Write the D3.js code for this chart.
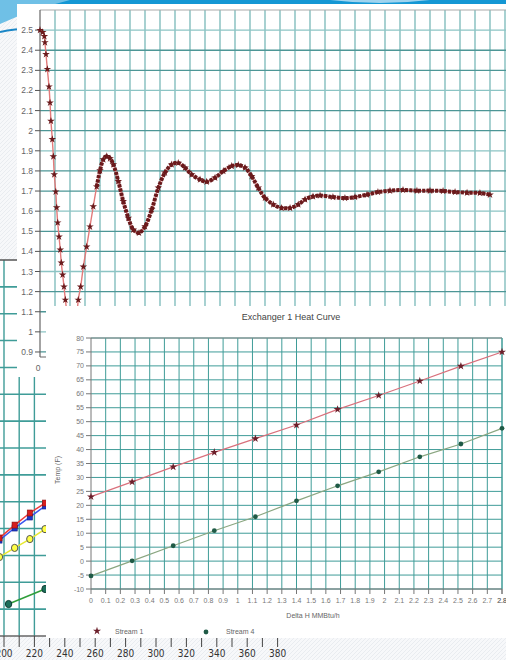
<!DOCTYPE html>
<html>
<head>
<meta charset="utf-8">
<script src="https://cdn.jsdelivr.net/npm/d3@7"></script>
<style>
  html, body { margin: 0; padding: 0; background: #f6f7f9; }
  svg { display: block; }
  text { font-family: "Liberation Sans", Arial, sans-serif; }
</style>
</head>
<body>
<div id="chart"></div>
<script>
// Three overlapping chart screenshots on one slide

// --- top chart: damped response (t, value) ---
const respT = [0, 0.18, 0.29, 0.33, 0.40, 0.49, 0.60, 0.67, 0.73, 0.82, 0.89, 0.95, 1.05, 1.11, 1.18,
  1.27, 1.35, 1.42, 1.51, 1.60, 1.69, 1.87, 2.07, 2.23, 2.40, 2.55, 2.71, 2.89, 3.11, 3.33, 3.55,
  3.78, 4.00, 4.22, 4.45, 4.67, 4.89, 5.22, 5.55, 5.89, 6.22, 6.60, 7.00, 7.45, 7.89, 8.33, 8.78,
  9.22, 9.67, 10.11, 10.67, 11.11, 11.67, 12.22, 12.78, 13.22, 13.67, 14.11, 14.55, 15.00, 15.55,
  16.11, 16.67, 17.22, 17.67, 18.20, 18.67, 19.53, 20.33, 21.00, 21.80, 22.53, 23.33, 24.20, 25.13,
  26.00, 26.87, 27.67, 28.47, 29.33, 30.00];
const respV = [2.500, 2.489, 2.469, 2.439, 2.380, 2.306, 2.219, 2.139, 2.048, 1.957, 1.872, 1.782,
  1.697, 1.618, 1.543, 1.473, 1.408, 1.343, 1.284, 1.224, 1.159, 1.059, 0.970, 0.930, 1.000, 1.159,
  1.224, 1.324, 1.423, 1.523, 1.623, 1.722, 1.802, 1.857, 1.873, 1.862, 1.832, 1.749, 1.649, 1.566,
  1.508, 1.492, 1.524, 1.608, 1.716, 1.791, 1.832, 1.840, 1.816, 1.782, 1.757, 1.746, 1.766, 1.799,
  1.824, 1.829, 1.816, 1.774, 1.716, 1.666, 1.633, 1.616, 1.616, 1.633, 1.658, 1.673, 1.678, 1.670,
  1.665, 1.670, 1.682, 1.695, 1.702, 1.705, 1.702, 1.702, 1.700, 1.695, 1.692, 1.690, 1.682];
const respYTicks = [0.9, 1, 1.1, 1.2, 1.3, 1.4, 1.5, 1.6, 1.7, 1.8, 1.9, 2, 2.1, 2.2, 2.3, 2.4, 2.5];

// --- exchanger heat curve ---
const deltaH = [0, 0.28, 0.56, 0.84, 1.12, 1.40, 1.68, 1.96, 2.24, 2.52, 2.80];
const stream1Temp = [23.1, 28.4, 33.8, 39.0, 43.9, 48.8, 54.4, 59.4, 64.6, 69.9, 75.0];
const stream4Temp = [-5.3, 0.1, 5.5, 10.9, 15.9, 21.6, 27.0, 32.0, 37.4, 42.0, 47.6];
const tempTicks = d3.range(-10, 81, 5);
const deltaTicks = d3.range(0, 29).map(i => i / 10);

// --- lower left chart (mostly hidden) ---
const lowTicks = [200, 220, 240, 260, 280, 300, 320, 340, 360, 380];
const redX = [197, 207, 217, 227], redY = [36.5, 41.3, 45.8, 49.5];
const blueX = [197, 207, 217, 227], blueY = [35.7, 40.2, 44.3, 48.4];
const yellowX = [197, 207, 217, 227], yellowY = [29.4, 32.8, 36.1, 39.8];
const greenX = [203, 227], greenY = [11.9, 17.5];

const W = 506, H = 660;
const svg = d3.select('#chart').append('svg').attr('width', W).attr('height', H);

// slide background with a faint hatch
const defs = svg.append('defs');
const pat = defs.append('pattern').attr('id', 'hatch').attr('width', 4).attr('height', 4)
  .attr('patternUnits', 'userSpaceOnUse');
pat.append('rect').attr('width', 4).attr('height', 4).attr('fill', '#f7f8fa');
pat.append('path').attr('d', 'M0,4 L4,0').attr('stroke', '#e6e9ed').attr('stroke-width', 0.8);
svg.append('rect').attr('width', W).attr('height', H).attr('fill', 'url(#hatch)');

// blue swooshes of the slide theme
svg.append('rect').attr('x', 0).attr('y', 0).attr('width', W).attr('height', 4).attr('fill', '#1497d4');
svg.append('path').attr('d', 'M0,0 L70,0 Q30,10 0,24 Z').attr('fill', '#6fc0e6');
svg.append('path').attr('d', 'M330,0 Q380,6 430,0 Z').attr('fill', '#9fd3ee');
svg.append('path').attr('d', 'M0,32 Q18,28 40,29').attr('fill', 'none')
  .attr('stroke', '#1a86c6').attr('stroke-width', 2);

const teal = '#3f9c98';

// ================= lower-left chart =================
const xC = d3.scaleLinear().domain([200, 380]).range([4, 277.6]);
const yC = d3.scaleLinear().domain([0, 140]).range([636, 260]);
const gC = svg.append('g');
gC.append('rect').attr('x', -10).attr('y', 260).attr('width', 290).attr('height', 376).attr('fill', '#fff');
gC.selectAll('.hgc').data(d3.range(10, 140, 10)).join('line')
  .attr('x1', -10).attr('x2', 280).attr('y1', d => yC(d)).attr('y2', d => yC(d))
  .attr('stroke', teal).attr('stroke-width', 1.6);
gC.selectAll('.vgc').data(d3.range(190, 381, 10)).join('line')
  .attr('x1', d => xC(d)).attr('x2', d => xC(d)).attr('y1', 260).attr('y2', 636)
  .attr('stroke', teal).attr('stroke-width', 1.4);
gC.append('line').attr('x1', -10).attr('x2', 280).attr('y1', 260).attr('y2', 260)
  .attr('stroke', '#555').attr('stroke-width', 1.5);
gC.append('line').attr('x1', -10).attr('x2', 280).attr('y1', 636).attr('y2', 636)
  .attr('stroke', '#666').attr('stroke-width', 1.5);
gC.selectAll('.tkc').data(d3.range(190, 381, 10)).join('line')
  .attr('x1', d => xC(d)).attr('x2', d => xC(d)).attr('y1', 636).attr('y2', 647)
  .attr('stroke', '#444').attr('stroke-width', 1);
gC.selectAll('.tlc').data(lowTicks).join('text')
  .attr('x', d => xC(d)).attr('y', 657).attr('text-anchor', 'middle')
  .style('font-family', '"Liberation Sans Narrow", "DejaVu Sans Condensed", sans-serif')
  .attr('font-size', 10).attr('fill', '#333').text(d => d);

const lowSeries = [
  { xs: blueX, ys: blueY, line: '#3a55ee', fill: '#1f36c8', stroke: '#102080', shape: 'sq' },
  { xs: redX, ys: redY, line: '#ee3a3a', fill: '#d81e1e', stroke: '#801010', shape: 'sq' },
  { xs: yellowX, ys: yellowY, line: '#e8e830', fill: '#ffff44', stroke: '#555', shape: 'ci' },
  { xs: greenX, ys: greenY, line: '#2f9e3a', fill: '#1d6e5a', stroke: '#0f3c33', shape: 'ci' }
];
lowSeries.forEach(s => {
  const pts = s.xs.map((x, i) => [xC(x), yC(s.ys[i])]);
  gC.append('path').attr('d', d3.line()(pts)).attr('fill', 'none')
    .attr('stroke', s.line).attr('stroke-width', 1.5);
  if (s.shape === 'sq') {
    gC.selectAll(null).data(pts).join('rect')
      .attr('x', d => d[0] - 2.6).attr('y', d => d[1] - 3).attr('width', 5.2).attr('height', 6)
      .attr('fill', s.fill).attr('stroke', s.stroke).attr('stroke-width', 0.6);
  } else {
    gC.selectAll(null).data(pts).join('ellipse')
      .attr('cx', d => d[0]).attr('cy', d => d[1]).attr('rx', 3.2).attr('ry', 3.6)
      .attr('fill', s.fill).attr('stroke', s.stroke).attr('stroke-width', 1);
  }
});

// ================= top chart: damped response =================
const gA = svg.append('g');
gA.append('rect').attr('x', 17).attr('y', 4).attr('width', W - 17).attr('height', 373).attr('fill', '#fff');
const xA = d3.scaleLinear().domain([0, 31.1]).range([40, 506.5]);
const yA = d3.scaleLinear().domain([0.875, 2.6]).range([357, 10]);
gA.selectAll('.vga').data(d3.range(1, 32)).join('line')
  .attr('x1', d => xA(d)).attr('x2', d => xA(d)).attr('y1', 10).attr('y2', 357)
  .attr('stroke', '#79b8b8').attr('stroke-width', 1.3);
gA.selectAll('.hga').data(respYTicks).join('line')
  .attr('x1', 40).attr('x2', W).attr('y1', d => yA(d)).attr('y2', d => yA(d))
  .attr('stroke', (d, i) => i % 3 === 1 ? '#8cc4c4' : '#4d9696').attr('stroke-width', 1.3);
gA.append('line').attr('x1', 40).attr('x2', W).attr('y1', 10).attr('y2', 10)
  .attr('stroke', '#aaa').attr('stroke-width', 1.2);
gA.append('line').attr('x1', 40).attr('x2', 40).attr('y1', 10).attr('y2', 357)
  .attr('stroke', '#666').attr('stroke-width', 1.2);
gA.append('line').attr('x1', 40).attr('x2', W).attr('y1', 357).attr('y2', 357)
  .attr('stroke', '#666').attr('stroke-width', 1.2);
gA.selectAll('.tka').data(respYTicks).join('line')
  .attr('x1', 35).attr('x2', 40).attr('y1', d => yA(d)).attr('y2', d => yA(d))
  .attr('stroke', '#555').attr('stroke-width', 1);
gA.selectAll('.tla').data(respYTicks).join('text')
  .attr('x', 33).attr('y', d => yA(d) + 3).attr('text-anchor', 'end')
  .attr('font-size', 8.5).attr('fill', '#666').text(d => +d.toFixed(1));
gA.append('text').attr('x', xA(0) - 2).attr('y', 371).attr('text-anchor', 'middle')
  .attr('font-size', 8.5).attr('fill', '#666').text('0');

const respPts = respT.map((t, i) => [xA(t), yA(respV[i])]);
const respLine = d3.line().curve(d3.curveCatmullRom);
gA.append('path').attr('d', respLine(respPts)).attr('fill', 'none')
  .attr('stroke', '#e27a7a').attr('stroke-width', 1.4);
gA.append('path').attr('d', respLine(respPts.slice(31))).attr('fill', 'none')
  .attr('stroke', '#6a1a1c').attr('stroke-width', 4).attr('stroke-dasharray', '3.2,1.1');
gA.selectAll('.sta').data(respPts).join('path')
  .attr('transform', d => `translate(${d[0]},${d[1]})`)
  .attr('d', d3.symbol().type(d3.symbolStar).size(18))
  .attr('fill', '#6a1a1c');

// ================= exchanger heat curve =================
const gB = svg.append('g');
gB.append('rect').attr('x', 46).attr('y', 306).attr('width', W - 46).attr('height', 332).attr('fill', '#fff');
const xB = d3.scaleLinear().domain([0, 2.8]).range([91, 502]);
const yB = d3.scaleLinear().domain([-10, 80]).range([589, 338]);
gB.selectAll('.vgb').data(deltaTicks.slice(1).concat([2.8])).join('line')
  .attr('x1', d => xB(d)).attr('x2', d => xB(d)).attr('y1', 338).attr('y2', 589)
  .attr('stroke', teal).attr('stroke-width', 1);
gB.selectAll('.hgb').data(tempTicks).join('line')
  .attr('x1', 91).attr('x2', 502).attr('y1', d => yB(d)).attr('y2', d => yB(d))
  .attr('stroke', teal).attr('stroke-width', 1);
gB.append('line').attr('x1', 91).attr('x2', 502).attr('y1', 338).attr('y2', 338)
  .attr('stroke', '#888').attr('stroke-width', 1);
gB.append('line').attr('x1', 91).attr('x2', 91).attr('y1', 338).attr('y2', 589)
  .attr('stroke', '#777').attr('stroke-width', 1);
gB.append('line').attr('x1', 91).attr('x2', 502).attr('y1', 589).attr('y2', 589)
  .attr('stroke', '#777').attr('stroke-width', 1);
gB.selectAll('.tkby').data(tempTicks).join('line')
  .attr('x1', 86).attr('x2', 91).attr('y1', d => yB(d)).attr('y2', d => yB(d))
  .attr('stroke', '#777');
gB.selectAll('.tlby').data(tempTicks).join('text')
  .attr('x', 84).attr('y', d => yB(d) + 2.5).attr('text-anchor', 'end')
  .attr('font-size', 7).attr('fill', '#777').text(d => d);
gB.selectAll('.tkbx').data(deltaTicks.concat([2.8])).join('line')
  .attr('x1', d => xB(d)).attr('x2', d => xB(d)).attr('y1', 589).attr('y2', 594)
  .attr('stroke', '#777');
gB.selectAll('.tlbx').data(deltaTicks.concat([2.8])).join('text')
  .attr('x', d => xB(d)).attr('y', 603).attr('text-anchor', 'middle')
  .attr('font-size', 7).attr('fill', '#777').text(d => +d.toFixed(1));
gB.append('text').attr('x', 291).attr('y', 320).attr('text-anchor', 'middle')
  .attr('font-size', 9).attr('fill', '#444').text('Exchanger 1 Heat Curve');
gB.append('text').attr('x', 313).attr('y', 618).attr('text-anchor', 'middle')
  .attr('font-size', 7).attr('fill', '#666').text('Delta H MMBtu/h');
gB.append('text').attr('transform', 'translate(60,470) rotate(-90)').attr('text-anchor', 'middle')
  .attr('font-size', 7).attr('fill', '#666').text('Temp (F)');

const s1 = deltaH.map((d, i) => [xB(d), yB(stream1Temp[i])]);
const s4 = deltaH.map((d, i) => [xB(d), yB(stream4Temp[i])]);
gB.append('path').attr('d', d3.line()(s1)).attr('fill', 'none').attr('stroke', '#d9707c').attr('stroke-width', 1.2);
gB.append('path').attr('d', d3.line()(s4)).attr('fill', 'none').attr('stroke', '#8aa681').attr('stroke-width', 1.2);
gB.selectAll('.m1').data(s1).join('path')
  .attr('transform', d => `translate(${d[0]},${d[1]})`)
  .attr('d', d3.symbol().type(d3.symbolStar).size(20)).attr('fill', '#6b1f2a');
gB.selectAll('.m4').data(s4).join('circle')
  .attr('cx', d => d[0]).attr('cy', d => d[1]).attr('r', 2.4).attr('fill', '#1f5a46');

// legend
gB.append('path').attr('transform', 'translate(97,631)')
  .attr('d', d3.symbol().type(d3.symbolStar).size(20)).attr('fill', '#6b1f2a');
gB.append('text').attr('x', 115).attr('y', 633.5).attr('font-size', 7).attr('fill', '#666').text('Stream 1');
gB.append('circle').attr('cx', 206).attr('cy', 632).attr('r', 2.4).attr('fill', '#1f5a46');
gB.append('text').attr('x', 226).attr('y', 633.5).attr('font-size', 7).attr('fill', '#666').text('Stream 4');
</script>
</body>
</html>
